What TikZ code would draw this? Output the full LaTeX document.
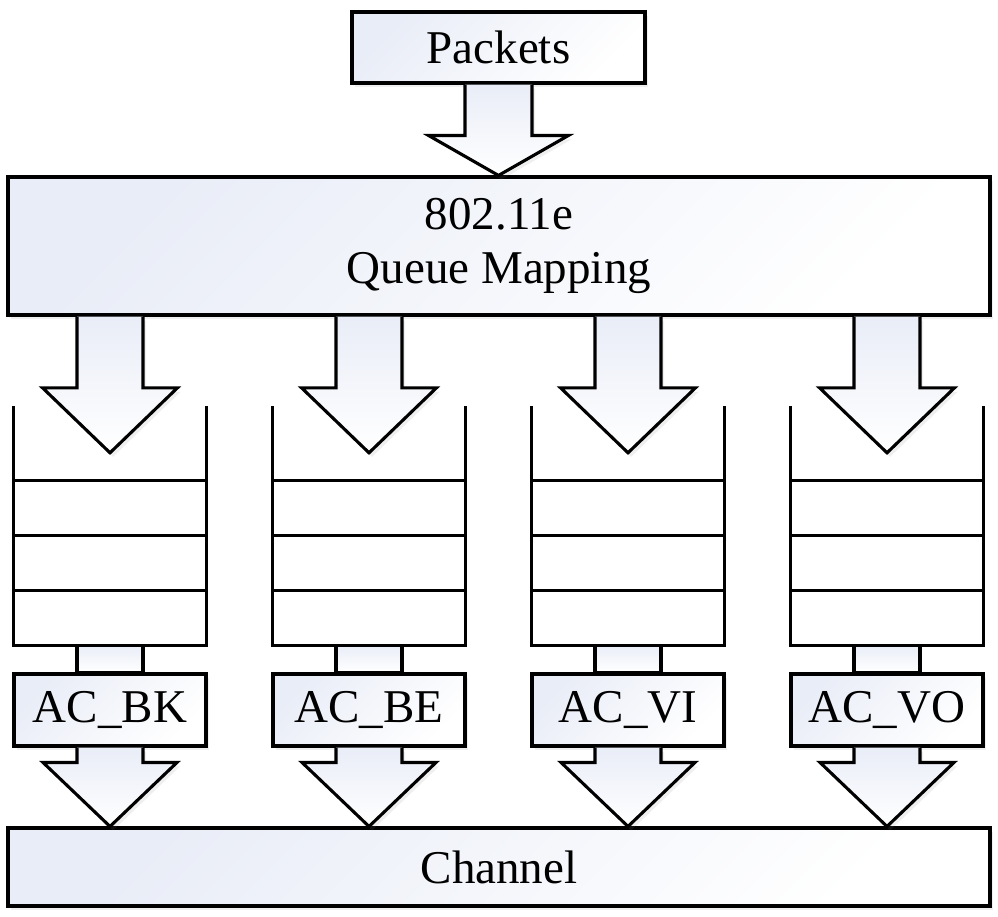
\documentclass[tikz,border=0pt]{standalone}
\usepackage{fontspec}
\setmainfont{Liberation Serif}
\usetikzlibrary{shadows,calc}
\definecolor{shadeblue}{RGB}{233,237,247}
\tikzset{
  softshadow/.style={drop shadow={opacity=0.12, shadow xshift=3pt, shadow yshift=-4pt}},
  box/.style={draw, line width=3.1pt, top color=shadeblue, bottom color=white, shading angle=45,
    inner sep=0pt, font=\fontsize{47}{54}\selectfont, softshadow},
  blockarrow/.style={draw, line width=3.1pt, line join=miter, top color=shadeblue, bottom color=white, softshadow},
  shaftbox/.style={draw, line width=3.1pt, top color=shadeblue, bottom color=white},
  queueline/.style={line width=3.1pt, line cap=rect},
  queue/.style={inner sep=0pt, minimum width=192pt, minimum height=237pt},
}
% #1 top point, #2 tip point, #3 shaft half width, #4 head half width, #5 head length
\newcommand{\fatarrow}[5]{%
  \path[blockarrow] let \p1=(#1), \p2=(#2) in
    (\x1-#3pt,\y1) -- (\x1-#3pt,\y2+#5pt) -- (\x1-#4pt,\y2+#5pt) -- (\x1,\y2)
    -- (\x1+#4pt,\y2+#5pt) -- (\x1+#3pt,\y2+#5pt) -- (\x1+#3pt,\y1);
}
\begin{document}
\begin{tikzpicture}[x=1pt,y=-1pt]
\useasboundingbox (0,0) rectangle (998,916);
\fill[white] (0,0) rectangle (998,916);

\node[box, minimum width=293pt, minimum height=71pt] (packets) at (498.5,47.5) {Packets};
\node[box, minimum width=982pt, minimum height=138pt, align=center] (map) at (499,246) {802.11e\\Queue Mapping};
\fatarrow{packets.south}{map.north}{33.5}{70}{40}

\foreach \i/\x/\lab in {1/110/AC\_BK, 2/369/AC\_BE, 3/628/AC\_VI, 4/887/AC\_VO}{
  \node[queue] (q\i) at (\x,526.5) {};
  \draw[queueline] (q\i.north west) -- (q\i.south west) -- (q\i.south east) -- (q\i.north east);
  \foreach \d in {73,128,183}{
    \draw[queueline] ($(q\i.north west)+(0,\d)$) -- ($(q\i.north east)+(0,\d)$);
  }
  \coordinate (t\i) at ($(q\i.north)+(0,45)$);
  \fatarrow{map.south -| q\i}{t\i}{33}{67.5}{65}
  \node[box, minimum width=192pt, minimum height=72pt] (ac\i) at (\x,710) {\lab};
}

\node[box, minimum width=982pt, minimum height=78pt] (chan) at (499,867) {Channel};

\foreach \i in {1,2,3,4}{
  \path[shaftbox] ($(q\i.south)+(-33,0)$) rectangle ($(ac\i.north)+(33,0)$);
  \draw[line width=3.1pt] ($(ac\i.north)+(-33,0)$) -- ($(ac\i.north)+(33,0)$);
  \fatarrow{ac\i.south}{chan.north -| ac\i}{33}{67}{64}
}
\end{tikzpicture}
\end{document}
